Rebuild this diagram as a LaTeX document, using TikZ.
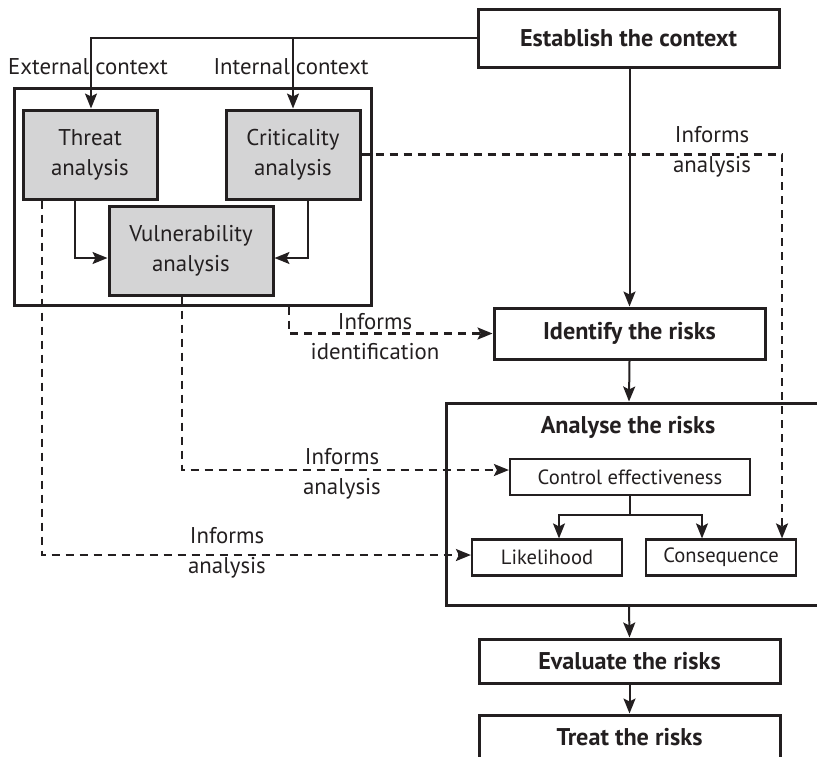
\documentclass[tikz,border=0pt]{standalone}
\usepackage{fontspec}
\setmainfont{PT Sans}
\usetikzlibrary{arrows.meta}
\definecolor{ink}{HTML}{231F20}
\definecolor{boxgray}{HTML}{D4D4D5}

\begin{document}
\begin{tikzpicture}[x=0.5pt,y=-0.5pt,color=ink,
    every node/.style={font=\fontsize{11.4}{15}\selectfont},
    arr/.style={-{Stealth[length=7.5pt,width=6pt,inset=1.5pt]},line width=1pt},
    dsh/.style={arr,line width=1.15pt,dash pattern=on 4pt off 3pt},
    mainbox/.style={draw,line width=1.5pt,font=\bfseries\fontsize{12.1}{15}\selectfont,inner sep=0pt},
    graybox/.style={draw,fill=boxgray,line width=1.5pt,align=center,inner sep=0pt,
        minimum width=67pt,minimum height=44.5pt},
    subbox/.style={draw,line width=1.1pt,font=\fontsize{10.3}{12}\selectfont,inner sep=0pt,
        minimum height=18pt},
    lbl/.style={align=center}]
    \useasboundingbox (0,0) rectangle (817,756);
    \clip (0,0) rectangle (817,756);

    % main chain
    \node [mainbox,minimum width=150.5pt,minimum height=29pt] (est) at (628.5,38) {Establish the context};
    \node [mainbox,minimum width=135.5pt,minimum height=25.5pt] (ident) at (629.5,333.5) {Identify the risks};
    \node [draw,line width=1.5pt,minimum width=192pt,minimum height=101pt] (analyse) at (638,504) {};
    \node [font=\bfseries\fontsize{12.1}{15}\selectfont] at (628,427) {Analyse the risks};
    \node [mainbox,minimum width=150.5pt,minimum height=22pt] (eval) at (629.5,661) {Evaluate the risks};
    \node [mainbox,minimum width=150.5pt,minimum height=22pt] (treat) at (629.5,737) {Treat the risks};

    % inside the analysis box
    \node [subbox,minimum width=120pt] (ctrl) at (630,477) {Control effectiveness};
    \node [subbox,minimum width=75pt] (lik) at (547,557.5) {Likelihood};
    \node [subbox,minimum width=75pt] (cons) at (721,557.5) {Consequence};

    % context analysis group
    \node [draw,line width=1.5pt,minimum width=178.5pt,minimum height=108.5pt] (grp) at (192.5,196.5) {};
    \node [graybox] (threat) at (90,154.5) {Threat\\analysis};
    \node [graybox] (crit) at (293,154.5) {Criticality\\analysis};
    \node [graybox,minimum width=82pt] (vuln) at (191,250.5) {Vulnerability\\analysis};

    % context inputs
    \coordinate (split) at (293,38);
    \draw [arr] (est.west) -| ([xshift=0.5pt]threat.north);
    \draw [arr] (split) -- (crit.north);
    \node at (88,67) {External context};
    \node at (291,67) {Internal context};

    \draw [arr] ([xshift=-7.5pt]threat.south) |- ([yshift=-3.75pt]vuln.west);
    \draw [arr] ([xshift=7.5pt]crit.south) |- ([yshift=-3.75pt]vuln.east);

    % solid flow
    \draw [arr] ([xshift=0.5pt]est.south) -- (ident.north);
    \draw [arr] (ident.south) -- ([xshift=-4.5pt]analyse.north);
    \draw [arr] ([xshift=-4.5pt]analyse.south) -- (eval.north);
    \draw [arr] (eval.south) -- (treat.north);

    \draw [line width=0.85pt] (ctrl.south) -- ++(0,19) coordinate (br);
    \draw [arr,line width=0.85pt] (br) -| ([xshift=6pt]lik.north);
    \draw [arr,line width=0.85pt] (br) -| ([xshift=-9.5pt]cons.north);

    % informs links
    \draw [dsh] (crit.east) -| ([xshift=30.5pt]cons.north);
    \node [lbl] at (712,152) {Informs\\analysis};

    \draw [dsh] ([xshift=48.25pt]grp.south) |- (ident.west);
    \node [lbl] at (375,336.5) {Informs\\identification};

    \draw [dsh] ([xshift=-4.5pt]vuln.south) |- ([yshift=3.5pt]ctrl.west);
    \node [lbl] at (342,474) {Informs\\analysis};

    \draw [dsh] ([xshift=-24pt]threat.south) |- ([yshift=1.25pt]lik.west);
    \node [lbl] at (227,553) {Informs\\analysis};
\end{tikzpicture}
\end{document}
